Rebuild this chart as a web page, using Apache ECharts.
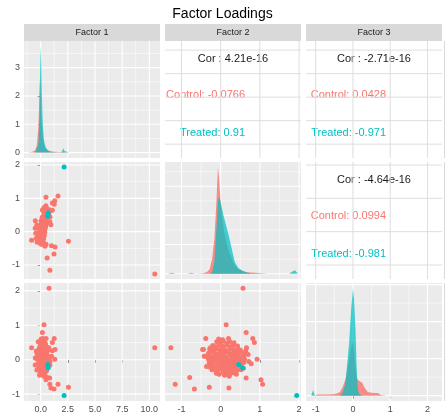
<!DOCTYPE html>
<html>
<head>
<meta charset="utf-8">
<script src="https://cdn.jsdelivr.net/npm/echarts@6/dist/echarts.min.js"></script>
<style>
  html, body { margin: 0; padding: 0; background: #ffffff; }
  #chart { width: 445px; height: 417px; }
</style>
</head>
<body>
<div id="chart"></div>
<script>
// ---- data ----
const factorNames = ['Factor 1', 'Factor 2', 'Factor 3'];
const groupNames = ['Control', 'Treated'];
const groupColors = ['#F8766D', '#00BFC4'];

// factor scores per observation: [Factor 1, Factor 2, Factor 3]
const controlScores = [
  [-0.22,-0.1,0.52],[0.18,-0.02,0.48],[0.09,0.07,0.54],[0.44,0.16,0.47],[0.09,0.23,0.53],[0.35,0.34,0.49],
  [0.17,-0.2,0.41],[-0.07,-0.13,0.38],[0.08,-0.04,0.43],[0.29,0.05,0.39],[-0.01,0.16,0.42],[0.54,0.25,0.37],[0.05,0.31,0.42],[0.45,0.43,0.4],
  [-0.13,-0.28,0.31],[0.22,-0.22,0.28],[-0.12,-0.11,0.32],[0.13,-0.02,0.29],[0.34,0.07,0.31],[0.09,0.14,0.27],[0.24,0.25,0.32],[0.45,0.32,0.29],[0.15,0.43,0.31],[0.71,0.5,0.28],
  [-0.33,-0.31,0.19],[0.07,-0.2,0.22],[-0.02,-0.13,0.18],[0.33,-0.02,0.21],[-0.01,0.05,0.19],[0.24,0.16,0.22],[0.44,0.23,0.18],[0.2,0.34,0.21],[0.35,0.41,0.19],[0.56,0.52,0.22],[0.26,0.61,0.18],
  [0.22,-0.29,0.11],[-0.28,-0.22,0.08],[0.13,-0.11,0.12],[0.03,-0.04,0.09],[0.39,0.07,0.11],[0.04,0.14,0.08],[0.29,0.25,0.12],[0.5,0.32,0.09],[0.25,0.43,0.11],[0.41,0.5,0.08],[0.61,0.59,0.12],
  [-0.28,-0.31,0.01],[0.27,-0.2,-0.02],[-0.22,-0.13,0.02],[0.18,-0.02,-0.01],[0.09,0.07,0.02],[0.44,0.14,-0.02],[0.09,0.25,0.01],[0.35,0.32,-0.01],[0.55,0.43,0.02],[0.31,0.5,-0.02],[0.46,0.61,0.01],
  [0.07,-0.29,-0.09],[-0.23,-0.22,-0.12],[0.33,-0.11,-0.08],[-0.17,-0.04,-0.11],[0.24,0.05,-0.09],[0.14,0.16,-0.12],[0.49,0.23,-0.08],[0.15,0.34,-0.11],[0.4,0.41,-0.09],[0.61,0.52,-0.12],[0.36,0.59,-0.08],
  [-0.08,-0.28,-0.21],[0.12,-0.2,-0.18],[-0.17,-0.13,-0.22],[0.38,-0.02,-0.19],[-0.11,0.07,-0.21],[0.29,0.14,-0.18],[0.19,0.25,-0.22],[0.55,0.32,-0.19],[0.2,0.43,-0.21],[0.46,0.5,-0.18],
  [0.17,-0.22,-0.29],[-0.07,-0.11,-0.32],[0.08,-0.02,-0.28],[0.29,0.07,-0.31],[-0.01,0.14,-0.29],[0.54,0.25,-0.32],[0.05,0.32,-0.28],[0.45,0.41,-0.31],[0.36,0.52,-0.29],
  [0.28,-0.11,-0.39],[-0.07,-0.04,-0.42],[0.19,0.07,-0.38],[0.39,0.14,-0.41],[0.14,0.25,-0.4],[0.3,0.32,-0.38],
  [0.55,0.7,0.15],[0.3,0.72,-0.05],[0.75,0.66,0.35],[0.62,0.58,-0.25],[-0.45,-0.05,0.05],[-0.5,0.1,-0.15],
  [-0.4,-0.2,0.25],[0.8,0.45,0.05],[0.85,0.3,-0.15],[-0.35,0.2,-0.3],[0.1,-0.38,0.1],[0.0,-0.36,-0.2],
  [0.25,0.05,0.58],[0.05,-0.05,0.6],[0.2,0.2,0.62],[-0.1,0.1,-0.45],[0.15,0.4,-0.42],[0.5,-0.38,0.62],
  [0.4,-0.44,0.3],[0.31,0.14,1.02],[0.16,0.65,0.79],
  [10.5,-1.27,0.35],[2.56,-0.29,-0.8],[0.77,0.57,2.08],[0.85,-1.16,-0.71],[0.6,-0.79,-0.52],
  [1.23,-0.67,-0.85],[1.33,-0.46,0.3],[1.0,-0.42,0.1],[-0.83,-0.26,0.35],[-0.49,0.33,0.05],
  [1.6,1.07,-0.71],[1.3,0.93,0.01],[1.25,0.82,0.62],[1.08,0.86,0.5],[0.49,1.03,-0.58],
  [0.49,0.78,-0.12],[1.08,0.64,0.26],[0.86,0.44,-0.05],[0.94,0.21,-0.82],[0.83,0.65,-0.53],
  [0.3,0.22,-0.48]
];
const treatedScores = [
  [0.65,0.46,-0.14],[0.7,0.56,-0.23],[2.16,1.94,-1.04]
];

// kernel density curves per factor (x grid, Control, Treated)
const density1X        = [-1.2,-0.8,-0.5,-0.35,-0.2,-0.1,-0.05,0,0.05,0.1,0.2,0.3,0.45,0.6,0.8,1.0,1.3,1.6,1.9,2.0,2.1,2.2,2.3,2.6,3.0];
const density1Control  = [0,0.02,0.08,0.25,0.9,2.2,2.7,2.3,1.5,1.0,0.55,0.3,0.15,0.1,0.06,0.04,0.03,0.02,0.02,0.02,0.02,0.02,0.01,0,0];
const density1Treated  = [0,0,0,0.05,0.3,1.4,2.9,3.75,3.2,2.2,1.0,0.45,0.2,0.1,0.05,0.03,0.01,0,0,0.05,0.15,0.06,0,0,0];

const density2X        = [-1.35,-1.25,-1.15,-0.85,-0.75,-0.65,-0.45,-0.35,-0.28,-0.22,-0.16,-0.11,-0.07,-0.04,0,0.04,0.08,0.13,0.18,0.23,0.3,0.36,0.45,0.56,0.65,0.75,0.9,1.05,1.2,1.75,1.83,1.9,1.97];
const density2Control  = [0,0.03,0,0,0.03,0,0.02,0.06,0.15,0.5,1.2,2.4,3.65,3.3,2.4,1.9,1.5,1.15,0.9,0.7,0.45,0.28,0.15,0.09,0.06,0.04,0.03,0.02,0,0,0,0,0];
const density2Treated  = [0,0,0,0,0,0,0,0,0,0.05,0.4,1.5,2.5,2.63,2.45,2.2,1.95,1.7,1.45,1.17,0.75,0.4,0.2,0.1,0.05,0.02,0,0,0,0,0.08,0.12,0];

const density3X        = [-1.12,-1.07,-1.02,-0.95,-0.8,-0.6,-0.45,-0.35,-0.27,-0.2,-0.15,-0.1,-0.05,0,0.03,0.07,0.1,0.13,0.18,0.25,0.32,0.4,0.5,0.6,0.67,0.75,0.9];
const density3Control  = [0,0,0,0.03,0.03,0.03,0.05,0.1,0.25,0.45,0.7,1.0,1.3,1.45,1.2,0.75,0.5,0.42,0.38,0.35,0.2,0.1,0.08,0.07,0.07,0.02,0];
const density3Treated  = [0,0.15,0,0,0,0,0,0,0.09,0.35,0.9,1.45,2.3,2.9,2.6,1.75,0.75,0.15,0.03,0,0,0,0,0,0,0,0];

// correlations for pairs (1,2), (1,3), (2,3)
const corOverall = ['4.21e-16', '-2.71e-16', '-4.64e-16'];
const corControl = ['-0.0766', '0.0428', '0.0994'];
const corTreated = ['0.91', '-0.971', '-0.981'];

// axis ticks
const factorTicks  = [[0, 2.5, 5, 7.5, 10], [-1, 0, 1, 2], [-1, 0, 1, 2]];
const factorMinor  = [[-1.25, 1.25, 3.75, 6.25, 8.75], [-0.5, 0.5, 1.5], [-0.5, 0.5, 1.5]];
const densityTicks = [0, 1, 2, 3];
const densityMinor = [0.5, 1.5, 2.5, 3.5];

// ---- layout ----
const colBoxes = [{ left: 24, width: 136 }, { left: 165, width: 136 }, { left: 306, width: 136 }];
const rowBoxes = [{ top: 41, height: 117 }, { top: 162, height: 117 }, { top: 283, height: 118 }];
const colRanges = [[-1.53, 10.98], [-1.42, 2.05], [-1.26, 2.39]];
const rowRanges = [[-1.47, 10.97], [-1.42, 2.09], [-1.2, 2.23]];
const densityRanges = [[-0.19, 3.94], [-0.18, 3.83], [-0.145, 3.045]];
const densitySets = [
  [density1X, density1Control, density1Treated],
  [density2X, density2Control, density2Treated],
  [density3X, density3Control, density3Treated]
];
const corIndex = { '0-1': 0, '0-2': 1, '1-2': 2 };

const FONT = '"Liberation Sans", Arial, sans-serif';
const labelColor = '#4D4D4D';

function fmtTick(col) {
  return col === 0 ? (v) => Number(v).toFixed(1) : (v) => String(v);
}

function gridLines(idx, xMaj, xMin, yMaj, yMin, majColor, minColor, majW, minW) {
  return {
    type: 'custom', xAxisIndex: idx, yAxisIndex: idx, silent: true, z: 1,
    data: [[0, 0]],
    renderItem: function (params, api) {
      const cs = params.coordSys;
      const kids = [];
      const addV = (v, color, w) => {
        const x = api.coord([v, 0])[0];
        if (x < cs.x - 0.5 || x > cs.x + cs.width + 0.5) return;
        kids.push({ type: 'line', shape: { x1: x, y1: cs.y, x2: x, y2: cs.y + cs.height }, style: { stroke: color, lineWidth: w } });
      };
      const addH = (v, color, w) => {
        const y = api.coord([0, v])[1];
        if (y < cs.y - 0.5 || y > cs.y + cs.height + 0.5) return;
        kids.push({ type: 'line', shape: { x1: cs.x, y1: y, x2: cs.x + cs.width, y2: y }, style: { stroke: color, lineWidth: w } });
      };
      xMin.forEach(v => addV(v, minColor, minW));
      yMin.forEach(v => addH(v, minColor, minW));
      xMaj.forEach(v => addV(v, majColor, majW));
      yMaj.forEach(v => addH(v, majColor, majW));
      return { type: 'group', children: kids };
    }
  };
}

const grids = [], xAxes = [], yAxes = [], series = [], graphics = [];

for (let r = 0; r < 3; r++) {
  for (let c = 0; c < 3; c++) {
    const idx = r * 3 + c;
    const isDiag = r === c, isUpper = c > r;
    grids.push({
      left: colBoxes[c].left, top: rowBoxes[r].top,
      width: colBoxes[c].width, height: rowBoxes[r].height,
      show: true, borderWidth: 0,
      backgroundColor: isUpper ? '#FFFFFF' : '#EBEBEB'
    });
    xAxes.push({
      gridIndex: idx, type: 'value', min: colRanges[c][0], max: colRanges[c][1],
      axisLine: { show: false }, splitLine: { show: false },
      axisTick: { show: r === 2, customValues: factorTicks[c], length: 3, lineStyle: { color: '#333333', width: 1 } },
      axisLabel: { show: r === 2, customValues: factorTicks[c], formatter: fmtTick(c), fontSize: 9, color: labelColor, fontFamily: FONT, margin: 4 }
    });
    const yRange = isDiag ? densityRanges[r] : rowRanges[r];
    const yTicks = isDiag ? densityTicks : factorTicks[r];
    const yMinor = isDiag ? densityMinor : factorMinor[r];
    yAxes.push({
      gridIndex: idx, type: 'value', min: yRange[0], max: yRange[1],
      axisLine: { show: false }, splitLine: { show: false },
      axisTick: { show: c === 0, customValues: yTicks, length: 3, lineStyle: { color: '#333333', width: 1 } },
      axisLabel: { show: c === 0, customValues: yTicks, formatter: (v) => String(v), fontSize: 9, color: labelColor, fontFamily: FONT, margin: 4 }
    });

    if (isUpper) {
      series.push(gridLines(idx, factorTicks[c], [], factorTicks[r], [], '#DEDEDE', '#DEDEDE', 1, 0.5));
      const k = corIndex[r + '-' + c];
      const cx = colBoxes[c].left + colBoxes[c].width / 2;
      const top = rowBoxes[r].top, h = rowBoxes[r].height;
      graphics.push({ type: 'text', x: cx, y: top + h * 0.15, style: { text: 'Cor : ' + corOverall[k], fill: '#1A1A1A', font: '11px ' + FONT, align: 'center', verticalAlign: 'middle' } });
      graphics.push({ type: 'text', x: cx + 12, y: top + h * 0.465, style: { text: groupNames[0] + ': ' + corControl[k], fill: groupColors[0], font: '11px ' + FONT, align: 'right', verticalAlign: 'middle' } });
      graphics.push({ type: 'text', x: cx + 12, y: top + h * 0.785, style: { text: groupNames[1] + ': ' + corTreated[k], fill: groupColors[1], font: '11px ' + FONT, align: 'right', verticalAlign: 'middle' } });
    } else {
      series.push(gridLines(idx, factorTicks[c], factorMinor[c], yTicks, yMinor, '#FFFFFF', '#FFFFFF', 1.1, 0.55));
    }

    if (isDiag) {
      const [xs, yc, yt] = densitySets[r];
      [yc, yt].forEach((ys, g) => {
        series.push({
          type: 'line', xAxisIndex: idx, yAxisIndex: idx, z: 2 + g,
          name: groupNames[g], symbol: 'none', silent: true,
          data: xs.map((x, i) => [x, ys[i]]),
          lineStyle: { width: 0 },
          areaStyle: { color: groupColors[g], opacity: g === 0 ? 0.8 : 0.72 }
        });
      });
    } else if (!isUpper) {
      [controlScores, treatedScores].forEach((pts, g) => {
        series.push({
          type: 'scatter', xAxisIndex: idx, yAxisIndex: idx, z: 3 + g,
          name: groupNames[g], symbolSize: 5, silent: true,
          itemStyle: { color: groupColors[g], opacity: 1 },
          data: pts.map(p => [p[c], p[r]])
        });
      });
    }
  }
  // column strip on top, row strip on the right edge
  graphics.push({ type: 'rect', shape: { x: colBoxes[r].left, y: 24, width: colBoxes[r].width, height: 17 }, style: { fill: '#D9D9D9' } });
  graphics.push({ type: 'text', x: colBoxes[r].left + colBoxes[r].width / 2, y: 32.5, style: { text: factorNames[r], fill: '#1A1A1A', font: '9px ' + FONT, align: 'center', verticalAlign: 'middle' } });
  graphics.push({ type: 'rect', shape: { x: 444, y: rowBoxes[r].top, width: 17, height: rowBoxes[r].height }, style: { fill: '#D9D9D9' } });
}

const chart = echarts.init(document.getElementById('chart'), null, { renderer: 'canvas' });
chart.setOption({
  animation: false,
  backgroundColor: '#FFFFFF',
  title: { text: 'Factor Loadings', left: 'center', top: 2, textStyle: { fontSize: 14, fontWeight: 'normal', color: '#000000', fontFamily: FONT } },
  grid: grids,
  xAxis: xAxes,
  yAxis: yAxes,
  series: series,
  graphic: graphics
});
</script>
</body>
</html>
